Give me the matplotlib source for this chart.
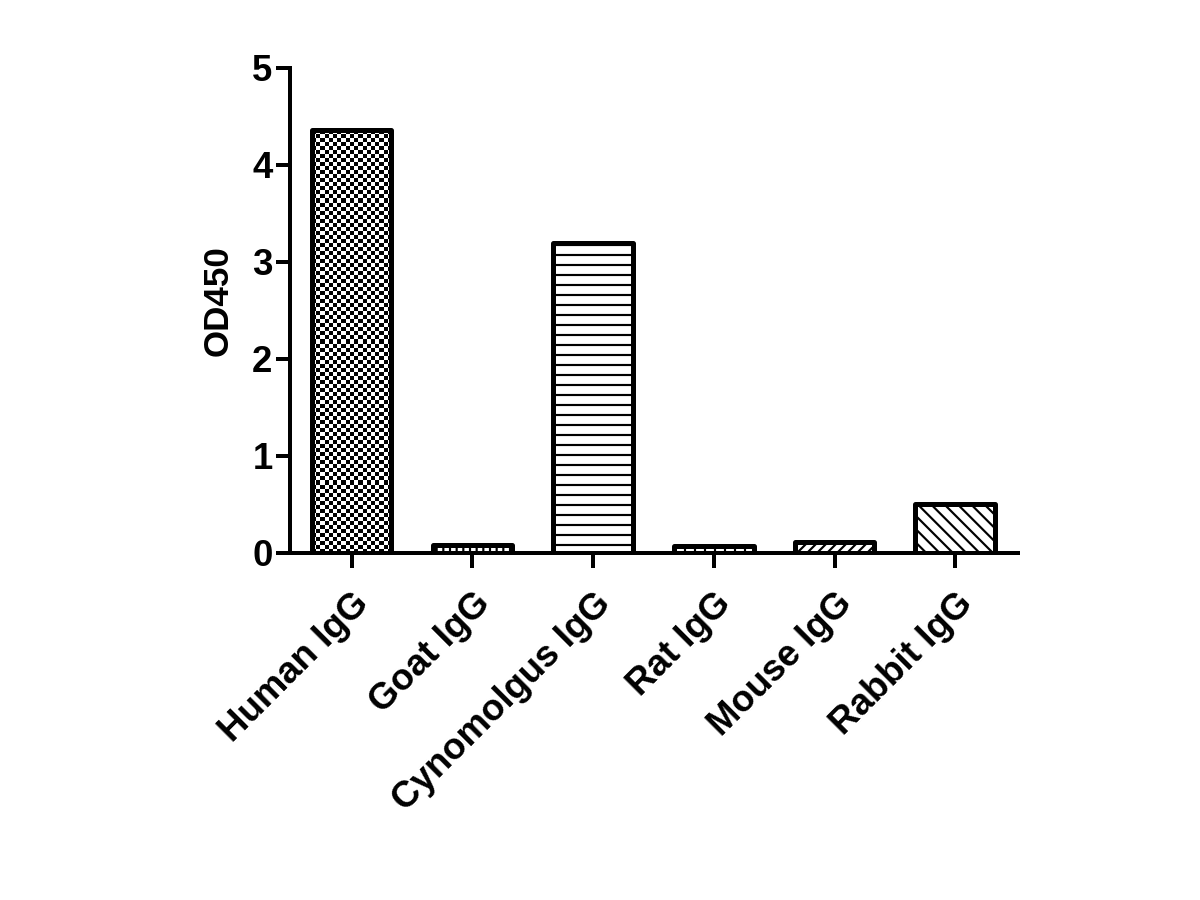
import numpy as np
import matplotlib
matplotlib.use('Agg')
from matplotlib import pyplot as plt

categories = ['Human IgG', 'Goat IgG', 'Cynomolgus IgG', 'Rat IgG', 'Mouse IgG', 'Rabbit IgG']
values = [4.36, 0.08, 3.20, 0.07, 0.11, 0.50]
hatches = [None, '|||', '--', '||', '////', '\\\\\\']

plt.rcParams['font.family'] = ['Liberation Sans', 'DejaVu Sans']
plt.rcParams['font.weight'] = 'bold'
plt.rcParams['hatch.linewidth'] = 1.3

fig = plt.figure(figsize=(10, 7.5), dpi=120)
ax = fig.add_axes([0.2417, 0.3856, 0.6067, 0.5389])

x = np.arange(len(categories))
bars = ax.bar(x, values, width=0.66, color='white', edgecolor='black',
              linewidth=3, joinstyle='round', zorder=3)
for b, h in zip(bars, hatches):
    if h:
        b.set_hatch(h)

ax.set_xlim(-0.51, 5.52)
ax.set_ylim(0, 5)
ax.set_yticks([0, 1, 2, 3, 4, 5])

# checkerboard fill for the first bar, clipped to the bar
b0 = bars[0]
b0.set_facecolor('none')
x0, w, h0 = b0.get_x(), b0.get_width(), b0.get_height()
p0 = ax.transData.transform((x0, 0))
p1 = ax.transData.transform((x0 + w, h0))
cell = 4.0
nx = int((p1[0] - p0[0]) / cell)
ny = int((p1[1] - p0[1]) / cell)
checker = (np.add.outer(np.arange(ny), np.arange(nx)) % 2).astype(float)
im = ax.imshow(checker, cmap='gray', extent=(x0, x0 + w, 0, h0),
               interpolation='nearest', aspect='auto', zorder=2)
im.set_clip_path(b0)
ax.set_xlim(-0.51, 5.52)
ax.set_ylim(0, 5)

for s in ['top', 'right']:
    ax.spines[s].set_visible(False)
for s in ['left', 'bottom']:
    ax.spines[s].set_linewidth(2.4)

ax.tick_params(axis='y', direction='out', length=8.5, width=2.4, labelsize=22, pad=2)
ax.tick_params(axis='x', direction='out', length=9, width=2.4, pad=11)
ax.set_xticks(x)
ax.set_xticklabels(categories, rotation=45, ha='right', va='top',
                   rotation_mode='anchor', fontsize=22, fontweight='bold')
for t in ax.get_yticklabels():
    t.set_fontweight('bold')
ax.set_ylabel('OD450', fontsize=21, fontweight='bold')
ax.yaxis.set_label_coords(-0.076, 0.52)

fig.savefig('out.png', dpi=120)
